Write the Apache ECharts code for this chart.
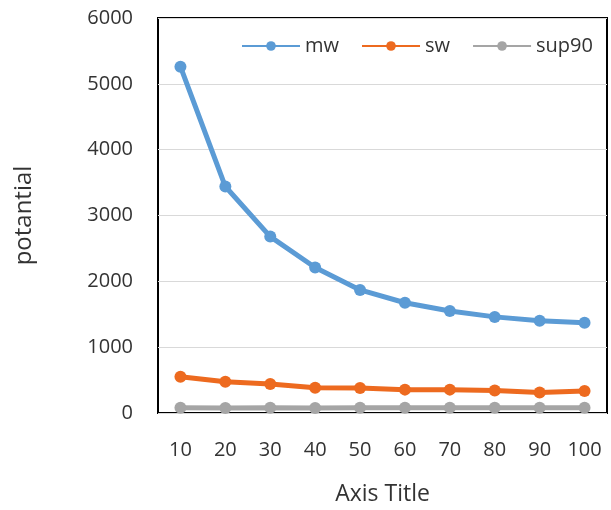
<!DOCTYPE html>
<html><head><meta charset="utf-8">
<script src="https://cdn.jsdelivr.net/npm/echarts@6/dist/echarts.min.js"></script>
<style>html,body{margin:0;padding:0;background:#fff}#c{width:611px;height:510px}</style>
</head><body><div id="c"></div>
<script>
const categories = ['10','20','30','40','50','60','70','80','90','100'];
const mw = [5260, 3440, 2680, 2210, 1870, 1675, 1550, 1460, 1400, 1370];
const sw = [550, 475, 440, 385, 380, 355, 355, 340, 310, 335];
const sup90 = [80, 75, 80, 75, 80, 80, 80, 80, 80, 80];
const yTicks = [0, 1000, 2000, 3000, 4000, 5000, 6000];

const font = '"Open Sans", "Noto Sans", sans-serif';
const chart = echarts.init(document.getElementById('c'), null, {renderer: 'canvas'});
function s(name, data, color) {
  return {
    name, type: 'line', data,
    symbol: 'circle', symbolSize: 12,
    lineStyle: {color, width: 5},
    itemStyle: {color},
    emphasis: {disabled: true}
  };
}
chart.setOption({
  animation: false,
  textStyle: {fontFamily: font},
  grid: {left: 158, right: 4, top: 18, bottom: 97, show: true, borderColor: '#000', borderWidth: 2,
         containLabel: false, outerBoundsMode: 'none'},
  legend: {
    top: 31, left: 236, itemWidth: 58, itemHeight: 12, itemGap: 22,
    textStyle: {fontSize: 20, color: '#333', fontFamily: font},
    data: ['mw', 'sw', 'sup90']
  },
  xAxis: {
    type: 'category', data: categories, boundaryGap: true,
    name: 'Axis Title', nameLocation: 'middle', nameGap: 70,
    nameTextStyle: {fontSize: 23, color: '#333', fontFamily: font},
    axisLine: {show: false}, axisTick: {show: false},
    axisLabel: {fontSize: 20, color: '#333', margin: 27, fontFamily: font}
  },
  yAxis: {
    type: 'value', min: yTicks[0], max: yTicks[yTicks.length - 1], interval: 1000,
    name: 'potantial', nameLocation: 'middle', nameGap: 122, nameRotate: 90,
    nameTextStyle: {fontSize: 24, color: '#333', fontFamily: font},
    axisLine: {show: false}, axisTick: {show: false},
    axisLabel: {fontSize: 20, color: '#333', margin: 25, fontFamily: font, formatter: v => String(v)},
    splitLine: {lineStyle: {color: '#d9d9d9', width: 1}}
  },
  series: [
    s('mw', mw, '#5b9bd5'),
    s('sw', sw, '#ed6a1f'),
    s('sup90', sup90, '#a5a5a5')
  ]
});
</script></body></html>
